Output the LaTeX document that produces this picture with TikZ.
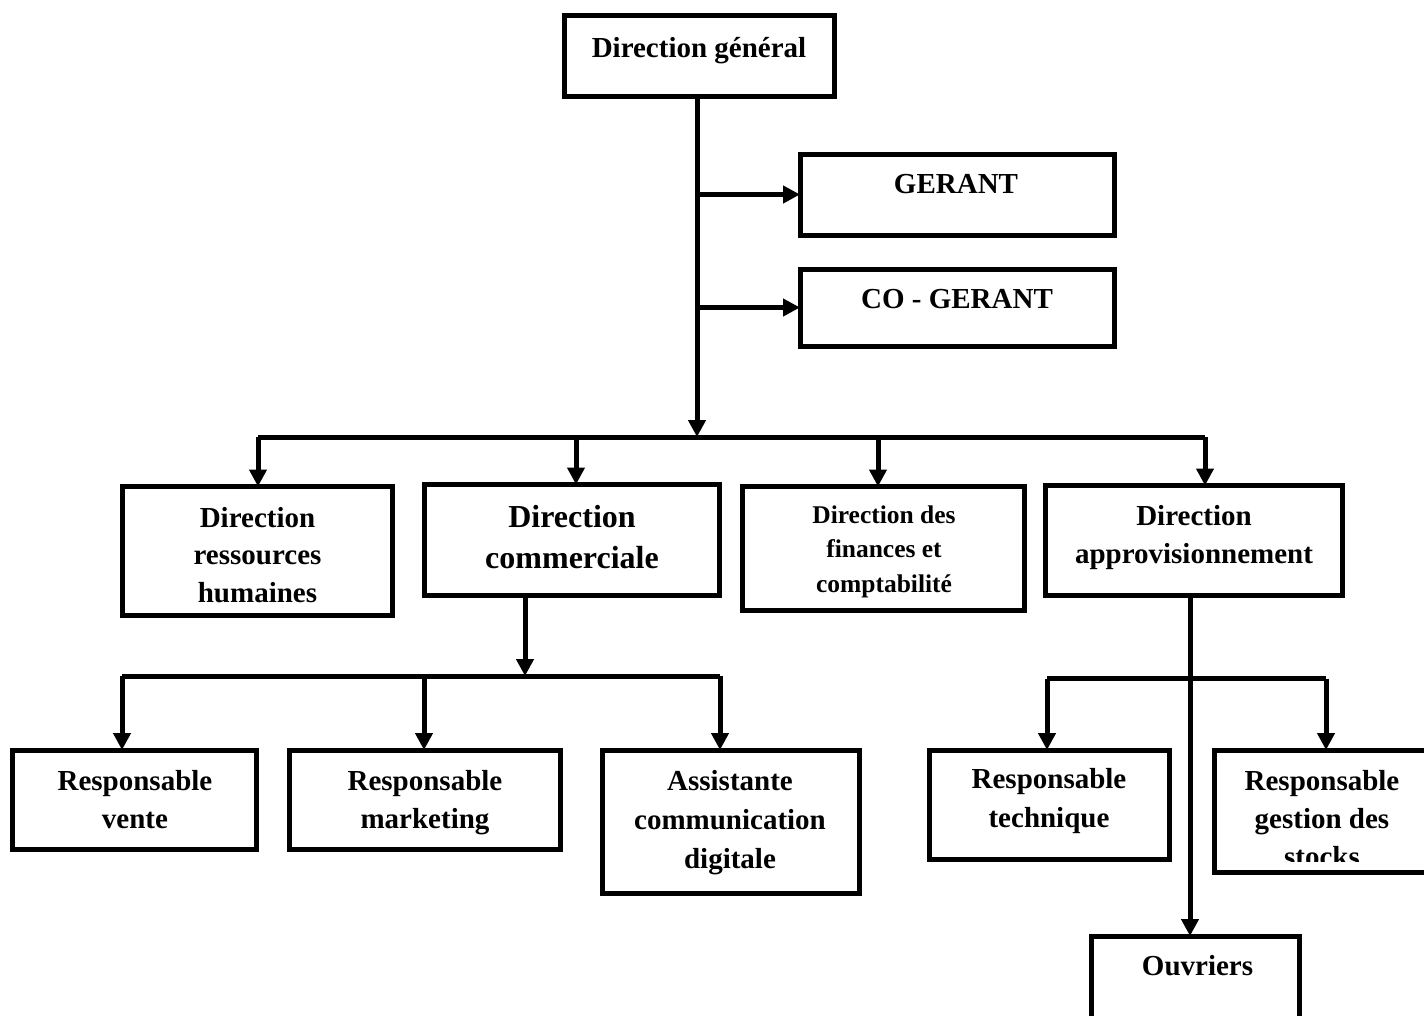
\documentclass[tikz,border=0pt]{standalone}
\usepackage{fontspec}
\setmainfont{Liberation Serif}
\usetikzlibrary{arrows.meta,fit}

% multi-line centred label whose baseline is the first line's baseline
\newcommand\stackedtext[3]{{\fontsize{#1}{#2}\selectfont\bfseries
  \begin{tabular}[t]{@{}c@{}}#3\end{tabular}}}

\tikzset{
  orgbox/.style={draw=black, line width=5pt, fill=white, inner sep=0pt, outer sep=0pt, rectangle},
  lbl/.style={inner sep=0pt, anchor=base},
  conn/.style={draw=black, line width=5pt},
  arr/.style={conn, -{Triangle[length=17pt,width=17pt]}},
}

\begin{document}
\begin{tikzpicture}[x=1pt,y=-1pt]
\useasboundingbox (0,0) rectangle (1424,1015);
\fill[white] (0,0) rectangle (1424,1015);

% ---- boxes ----
\node[orgbox, fit={(564,15)(834,96)}] (dg) {};
\node[orgbox, fit={(800,154)(1114,235)}] (gerant) {};
\node[orgbox, fit={(800,269)(1114,346)}] (cogerant) {};

\node[orgbox, fit={(122.5,486.5)(392.5,615.5)}] (rh) {};
\node[orgbox, fit={(424.5,484.5)(719.5,595.5)}] (com) {};
\node[orgbox, fit={(742.5,486.5)(1024.5,610.5)}] (fin) {};
\node[orgbox, fit={(1045.5,485.5)(1342.5,595.5)}] (appro) {};

\node[orgbox, fit={(12.5,750)(256.5,849)}] (vente) {};
\node[orgbox, fit={(289.5,750)(560,849)}] (mkt) {};
\node[orgbox, fit={(602.5,750)(859,893)}] (asst) {};
\node[orgbox, fit={(929.5,750)(1169.5,859.5)}] (tech) {};
\node[orgbox, fit={(1214.5,750)(1445,872)}] (stocks) {};
\node[orgbox, fit={(1091,936)(1299.5,1040)}] (ouv) {};

% ---- labels ----
\node[lbl] (dg-t) at (699,57) {\stackedtext{29}{38}{Direction général}};
\node[lbl] (gerant-t) at (956,193) {\stackedtext{29}{38}{GERANT}};
\node[lbl] (cogerant-t) at (957,308) {\stackedtext{29}{38}{CO - GERANT}};

\node[lbl] (rh-t) at (257.5,527) {\stackedtext{29}{37.5}{Direction\\ressources\\humaines}};
\node[lbl] (com-t) at (572,527) {\stackedtext{32}{41}{Direction\\commerciale}};
\node[lbl] (fin-t) at (884,523) {\stackedtext{25.5}{34.5}{Direction des\\finances et\\comptabilité}};
\node[lbl] (appro-t) at (1194,525) {\stackedtext{29}{38}{Direction\\approvisionnement}};

\node[lbl] (vente-t) at (135,790) {\stackedtext{29}{38.5}{Responsable\\vente}};
\node[lbl] (mkt-t) at (425,790) {\stackedtext{29}{38.5}{Responsable\\marketing}};
\node[lbl] (asst-t) at (730,790) {\stackedtext{29}{39}{Assistante\\communication\\digitale}};
\node[lbl] (tech-t) at (1049,788) {\stackedtext{29}{39}{Responsable\\technique}};
% the last line of this label runs past the frame and is cut by it
\begin{scope}
  \clip (1214.5,750) rectangle (1424,861);
  \node[lbl] (stocks-t) at (1322,790) {\stackedtext{29}{38}{Responsable\\gestion des\\stocks}};
\end{scope}
\node[lbl] (ouv-t) at (1197.5,975) {\stackedtext{29}{38}{Ouvriers}};

% ---- junction points ----
\coordinate (trunk) at (697,96);
\coordinate (bus) at (697,437);
\coordinate (busL) at (258,437);
\coordinate (busR) at (1205,437);
\coordinate (d2) at (576,437);
\coordinate (d3) at (878,437);

\coordinate (sub) at (525,595.5);
\coordinate (sbus) at (525,676);
\coordinate (sbusL) at (122,676);
\coordinate (sbusR) at (720,676);
\coordinate (sm) at (424,676);

\coordinate (adown) at (1190,595.5);
\coordinate (abusL) at (1047,678.5);
\coordinate (abusR) at (1326,678.5);

% ---- connectors: top level ----
\draw[arr] (trunk) -- (bus);
\draw[arr] (gerant.west -| trunk) -- (gerant.west);
\draw[arr] (cogerant.west -| trunk) -- (cogerant.west);
\draw[conn] (busL) -- (busR);
\draw[arr] (busL) -- (rh.north -| busL);
\draw[arr] (d2) -- (com.north -| d2);
\draw[arr] (d3) -- (fin.north -| d3);
\draw[arr] (busR) -- (appro.north -| busR);

% ---- connectors: commercial branch ----
\draw[arr] (sub) -- (sbus);
\draw[conn] (sbusL) -- (sbusR);
\draw[arr] (sbusL) -- (vente.north -| sbusL);
\draw[arr] (sm) -- (mkt.north -| sm);
\draw[arr] (sbusR) -- (asst.north -| sbusR);

% ---- connectors: supply branch ----
\draw[conn] (abusL) -- (abusR);
\draw[arr] (abusL) -- (tech.north -| abusL);
\draw[arr] (abusR) -- (stocks.north -| abusR);
\draw[arr] (adown) -- (ouv.north -| adown);
\end{tikzpicture}
\end{document}
